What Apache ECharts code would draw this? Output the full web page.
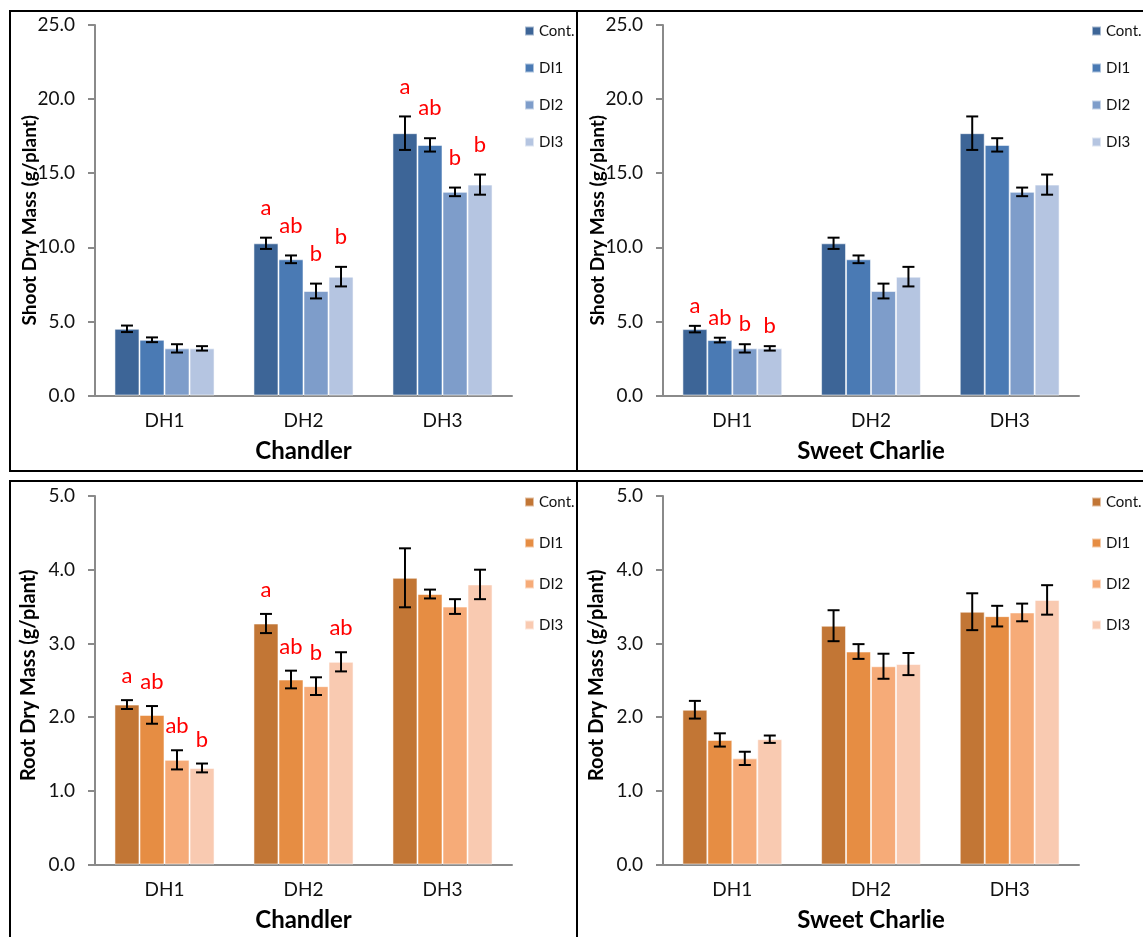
<!DOCTYPE html>
<html>
<head>
<meta charset="utf-8">
<script src="https://cdn.jsdelivr.net/npm/echarts@6/dist/echarts.min.js"></script>
<style>
  html, body { margin: 0; padding: 0; background: #fff; width: 1143px; height: 937px; overflow: hidden; }
  .panel { position: absolute; border: 2px solid #000; box-sizing: border-box; }
  .panel .chart { position: absolute; left: 0; top: 0; right: 0; bottom: 0; }
</style>
</head>
<body>
<div class="panel" style="left:9px;top:10px;width:569px;height:462px"><div class="chart" id="chShoot"></div></div>
<div class="panel" style="left:576px;top:10px;width:580px;height:462px"><div class="chart" id="scShoot"></div></div>
<div class="panel" style="left:9px;top:480px;width:569px;height:470px"><div class="chart" id="chRoot"></div></div>
<div class="panel" style="left:576px;top:480px;width:580px;height:470px"><div class="chart" id="scRoot"></div></div>
<script>
// Harvest dates and irrigation treatments
const groups = ['DH1', 'DH2', 'DH3'];
const treatments = ['Cont.', 'DI1', 'DI2', 'DI3'];

// Shoot dry mass (g/plant), Chandler — one row per treatment, one column per harvest
const chShootMean = [
  [4.50, 10.27, 17.70],
  [3.76, 9.19, 16.91],
  [3.18, 7.05, 13.74],
  [3.18, 8.02, 14.23]
];
const chShootErr = [
  [0.22, 0.38, 1.13],
  [0.16, 0.26, 0.45],
  [0.28, 0.50, 0.29],
  [0.15, 0.66, 0.68]
];
const chShootLetters = [
  ['', 'a', 'a'],
  ['', 'ab', 'ab'],
  ['', 'b', 'b'],
  ['', 'b', 'b']
];

// Shoot dry mass (g/plant), Sweet Charlie
const scShootMean = [
  [4.48, 10.27, 17.70],
  [3.74, 9.19, 16.91],
  [3.18, 7.05, 13.74],
  [3.18, 8.02, 14.23]
];
const scShootErr = [
  [0.22, 0.38, 1.13],
  [0.16, 0.26, 0.45],
  [0.28, 0.50, 0.29],
  [0.15, 0.66, 0.68]
];
const scShootLetters = [
  ['a', '', ''],
  ['ab', '', ''],
  ['b', '', ''],
  ['b', '', '']
];

// Root dry mass (g/plant), Chandler
const chRootMean = [
  [2.17, 3.27, 3.89],
  [2.03, 2.51, 3.67],
  [1.42, 2.42, 3.50],
  [1.31, 2.75, 3.80]
];
const chRootErr = [
  [0.06, 0.13, 0.40],
  [0.12, 0.12, 0.06],
  [0.13, 0.12, 0.10],
  [0.06, 0.13, 0.20]
];
const chRootLetters = [
  ['a', 'a', ''],
  ['ab', 'ab', ''],
  ['ab', 'b', ''],
  ['b', 'ab', '']
];

// Root dry mass (g/plant), Sweet Charlie
const scRootMean = [
  [2.10, 3.24, 3.43],
  [1.69, 2.89, 3.37],
  [1.44, 2.69, 3.42],
  [1.70, 2.72, 3.59]
];
const scRootErr = [
  [0.12, 0.21, 0.25],
  [0.09, 0.10, 0.14],
  [0.09, 0.17, 0.12],
  [0.05, 0.15, 0.20]
];

// Axis ticks
const shootTicks = { min: 0, max: 25, step: 5 };
const rootTicks = { min: 0, max: 5, step: 1 };

const blues = ['#3d6597', '#4a7ab4', '#7e9dca', '#b5c5e1'];
const oranges = ['#c27635', '#e68d43', '#f6ab78', '#f9cab1'];

const FONT = 'Lato, "Open Sans", "Liberation Sans", sans-serif';
const AXIS_GREY = '#8a8a8a';
const CAT_GAP = 0.28;

// Whiskers (mean ± SE) centred on each bar of the group
function errorBars(mean, err) {
  const data = [];
  mean.forEach((row, s) => row.forEach((v, g) => data.push([g, v, err[s][g], s])));
  return {
    type: 'custom',
    silent: true,
    z: 5,
    encode: { x: 0, y: 1 },
    data: data,
    renderItem: function (params, api) {
      const g = api.value(0), v = api.value(1), e = api.value(2), s = api.value(3);
      const band = api.size([1, 0])[0];
      const barW = band * (1 - CAT_GAP) / treatments.length;
      const x = api.coord([g, v])[0] + (s - (treatments.length - 1) / 2) * barW;
      const yHi = api.coord([g, v + e])[1];
      const yLo = api.coord([g, v - e])[1];
      const cap = 6;
      const st = { stroke: '#000', lineWidth: 2 };
      return {
        type: 'group',
        children: [
          { type: 'line', shape: { x1: x, y1: yHi, x2: x, y2: yLo }, style: st },
          { type: 'line', shape: { x1: x - cap, y1: yHi, x2: x + cap, y2: yHi }, style: st },
          { type: 'line', shape: { x1: x - cap, y1: yLo, x2: x + cap, y2: yLo }, style: st }
        ]
      };
    }
  };
}

// Significance letters written above the whiskers
function letterMarks(mean, err, letters, gapPx) {
  const data = [];
  letters.forEach((row, s) => row.forEach((t, g) => {
    if (t) data.push([g, mean[s][g] + err[s][g], s, t]);
  }));
  return {
    type: 'custom',
    silent: true,
    z: 6,
    encode: { x: 0, y: 1 },
    data: data.map(d => d.slice(0, 3)),
    renderItem: function (params, api) {
      const g = api.value(0), top = api.value(1), s = api.value(2);
      const txt = data[params.dataIndex][3];
      const band = api.size([1, 0])[0];
      const barW = band * (1 - CAT_GAP) / treatments.length;
      const x = api.coord([g, top])[0] + (s - (treatments.length - 1) / 2) * barW;
      const y = api.coord([g, top])[1] - gapPx;
      return {
        type: 'text',
        x: x, y: y,
        style: {
          text: txt, fill: '#ff0000',
          font: '22px ' + FONT,
          align: 'center', verticalAlign: 'middle'
        }
      };
    }
  };
}

function buildChart(id, cfg) {
  const chart = echarts.init(document.getElementById(id), null, { renderer: 'canvas' });
  const series = treatments.map((t, s) => ({
    name: t,
    type: 'bar',
    data: cfg.mean[s],
    barGap: '0%',
    barCategoryGap: (CAT_GAP * 100) + '%',
    itemStyle: { color: cfg.colors[s], borderColor: 'rgba(255,255,255,0.55)', borderWidth: 1 },
    silent: true
  }));
  series.push(errorBars(cfg.mean, cfg.err));
  if (cfg.letters) series.push(letterMarks(cfg.mean, cfg.err, cfg.letters, cfg.letterGap));

  chart.setOption({
    animation: false,
    backgroundColor: 'transparent',
    textStyle: { fontFamily: FONT },
    grid: {
      left: cfg.grid[0], top: cfg.grid[1], width: cfg.grid[2], height: cfg.grid[3],
      containLabel: false, outerBoundsMode: 'none'
    },
    legend: {
      data: treatments,
      orient: 'vertical',
      left: 513, top: cfg.legendTop,
      padding: 0,
      itemWidth: 9, itemHeight: 9,
      itemGap: cfg.legendGap,
      icon: 'rect',
      selectedMode: false,
      textStyle: { fontSize: 15, color: '#111', fontFamily: FONT, lineHeight: 16, overflow: 'none', width: 60 }
    },
    xAxis: {
      type: 'category',
      data: groups,
      axisLine: { lineStyle: { color: AXIS_GREY, width: 2 } },
      axisTick: { length: 6, lineStyle: { color: AXIS_GREY, width: 2 } },
      axisLabel: { color: '#111', fontSize: 19, fontFamily: FONT, margin: 16 },
      name: cfg.cultivar,
      nameLocation: 'middle',
      nameGap: 44,
      nameTextStyle: { fontSize: 24, fontWeight: 'bold', color: '#000', fontFamily: FONT }
    },
    yAxis: {
      type: 'value',
      min: cfg.ticks.min, max: cfg.ticks.max, interval: cfg.ticks.step,
      axisLine: { show: true, lineStyle: { color: AXIS_GREY, width: 2 } },
      axisTick: { show: true, length: 7, lineStyle: { color: AXIS_GREY, width: 2 } },
      splitLine: { show: false },
      axisLabel: { color: '#111', fontSize: 19, fontFamily: FONT, margin: 20, formatter: v => v.toFixed(1) },
      name: cfg.yName,
      nameLocation: 'middle',
      nameGap: 56,
      nameMoveOverlap: false,
      nameTextStyle: {
        fontSize: cfg.yNameSize, fontWeight: 'bold', color: '#000', fontFamily: FONT,
        padding: cfg.yNamePad
      }
    },
    series: series
  });
}

buildChart('chShoot', {
  mean: chShootMean, err: chShootErr, letters: chShootLetters, letterGap: 30,
  colors: blues, ticks: shootTicks, cultivar: 'Chandler', yName: 'Shoot Dry Mass (g/plant)',
  yNameSize: 19, yNamePad: [0, 20, 0, 0],
  grid: [84, 13, 417, 370.5], legendTop: 11, legendGap: 21
});
buildChart('scShoot', {
  mean: scShootMean, err: scShootErr, letters: scShootLetters, letterGap: 20,
  colors: blues, ticks: shootTicks, cultivar: 'Sweet Charlie', yName: 'Shoot Dry Mass (g/plant)',
  yNameSize: 19, yNamePad: [0, 20, 0, 0],
  grid: [85, 13, 416, 370.5], legendTop: 11, legendGap: 21
});
buildChart('chRoot', {
  mean: chRootMean, err: chRootErr, letters: chRootLetters, letterGap: 24,
  colors: oranges, ticks: rootTicks, cultivar: 'Chandler', yName: 'Root Dry Mass (g/plant)',
  yNameSize: 20, yNamePad: [0, 0, 0, 10],
  grid: [84, 14, 417, 368.5], legendTop: 12, legendGap: 25
});
buildChart('scRoot', {
  mean: scRootMean, err: scRootErr, letters: null, letterGap: 0,
  colors: oranges, ticks: rootTicks, cultivar: 'Sweet Charlie', yName: 'Root Dry Mass (g/plant)',
  yNameSize: 20, yNamePad: [0, 0, 0, 10],
  grid: [85, 14, 416, 368.5], legendTop: 12, legendGap: 25
});
</script>
</body>
</html>
